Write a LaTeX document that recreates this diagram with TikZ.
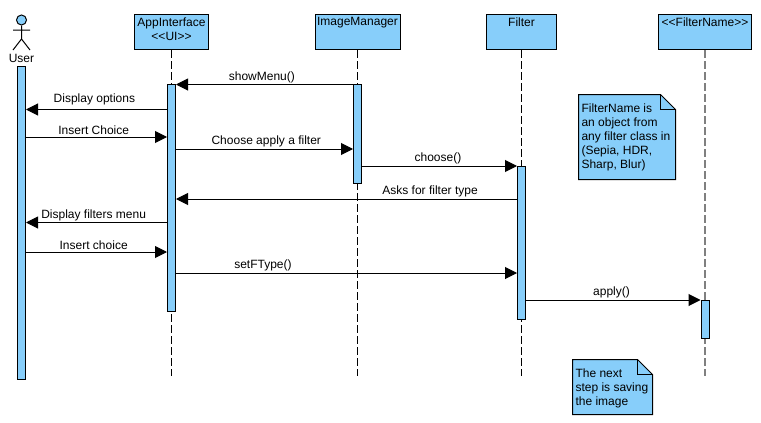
\documentclass[tikz,border=0pt]{standalone}
\usepackage{fontspec}
\setmainfont{Liberation Sans}
\usetikzlibrary{arrows.meta}
\definecolor{umlblue}{RGB}{135,206,250}

\begin{document}
\begin{tikzpicture}[x=1pt,y=-1pt,line width=1pt,font=\fontsize{12}{14}\selectfont,
                    msg/.style={-{Triangle[length=12pt,width=12pt]},shorten >=0pt},
                    lifebox/.style={draw=black,fill=umlblue,minimum height=35pt,inner sep=0pt},
                    boxtext/.style={anchor=north,align=center,inner sep=0pt,yshift=-3pt},
                    bar/.style={draw=black,fill=umlblue,minimum width=8pt,inner sep=0pt},
                    lifeline/.style={dash pattern=on 8pt off 3pt},
                    notebox/.style={draw=black,fill=umlblue,line join=miter},
                    notetext/.style={anchor=north west,align=left,inner sep=0pt},
                    lbl/.style={above=0.5pt,inner sep=1pt}]
  \useasboundingbox (0,0) rectangle (761,423);

  \node[lifebox,minimum width=74pt] (app)    at (171.5,32) {};
  \node[lifebox,minimum width=85pt] (img)    at (357.5,32) {};
  \node[lifebox,minimum width=70pt] (filter) at (521.5,32) {};
  \node[lifebox,minimum width=93pt] (fname)  at (705,32)   {};
  \node[boxtext] (appText)    at (app.north)    {AppInterface\\<{}<UI>{}>};
  \node[boxtext] (imgText)    at (img.north)    {ImageManager};
  \node[boxtext] (filterText) at (filter.north) {Filter};
  \node[boxtext] (fnameText)  at (fname.north)  {<{}<FilterName>{}>};

  % lifeline ends
  \coordinate (appEnd)    at (171.5,376);
  \coordinate (imgEnd)    at (357.5,376);
  \coordinate (filterEnd) at (521.5,376);
  \coordinate (fnameEnd)  at (704.5,376);

  \draw[lifeline] (app) -- (appEnd);
  \draw[lifeline] (img) -- (imgEnd);
  \draw[lifeline] (filter) -- (filterEnd);
  \draw[lifeline,draw=gray,line width=2pt] (fname.south -| fnameEnd) -- (fnameEnd);

  % actor
  \node[circle,draw=black,fill=umlblue,minimum size=10pt,inner sep=0pt] (head) at (21.5,20) {};
  \coordinate (hip)  at (21.5,39);
  \coordinate (armL) at (13,30);
  \coordinate (armR) at (30,30);
  \coordinate (legL) at (13,50);
  \coordinate (legR) at (30,50);
  \draw (head) -- (hip) (armL) -- (armR) (legL) -- (hip) -- (legR);
  \node (user) at (21.5,58) {User};

  % activation bars
  \node[bar,minimum height=313pt] (userBar)   at (21.5,223)    {};
  \node[bar,minimum height=227pt] (appBar)    at (171.5,198)   {};
  \node[bar,minimum height=99pt]  (imgBar)    at (357.5,134)   {};
  \node[bar,minimum height=153pt] (filterBar) at (521.5,243)   {};
  \node[bar,minimum height=38pt]  (fnameBar)  at (705,319.5)   {};

  % message rows
  \coordinate (m1)  at (0,84.5);
  \coordinate (m2)  at (0,109.5);
  \coordinate (m3)  at (0,137);
  \coordinate (m4)  at (0,149);
  \coordinate (m5)  at (0,166);
  \coordinate (m6)  at (0,199);
  \coordinate (m7)  at (0,222.5);
  \coordinate (m8)  at (0,252);
  \coordinate (m9)  at (0,273);
  \coordinate (m10) at (0,300);

  \draw[msg] (imgBar.west |- m1) -- node[lbl,pos=0.515] (showMenuLbl) {showMenu()} (appBar.east |- m1);
  \draw[msg] (appBar.west |- m2) -- node[lbl,pos=0.515,yshift=2.5pt] (optionsLbl) {Display options} (userBar.east |- m2);
  \draw[msg] (userBar.east |- m3) -- node[lbl,pos=0.48] (insertLbl) {Insert Choice} (appBar.west |- m3);
  \draw[msg] (appBar.east |- m4) -- node[lbl,pos=0.51] (chooseLbl) {Choose apply a filter} (imgBar.west |- m4);
  \draw[msg] (imgBar.east |- m5) -- node[lbl,pos=0.49] (choosecLbl) {choose()} (filterBar.west |- m5);
  \draw[msg] (filterBar.west |- m6) -- node[lbl,pos=0.255] (asksLbl) {Asks for filter type} (appBar.east |- m6);
  \draw[msg] (appBar.west |- m7) -- node[lbl,pos=0.52] (menuLbl) {Display filters menu} (userBar.east |- m7);
  \draw[msg] (userBar.east |- m8) -- node[lbl,pos=0.48] (insert2Lbl) {Insert choice} (appBar.west |- m8);
  \draw[msg] (appBar.east |- m9) -- node[lbl,pos=0.255] (setLbl) {setFType()} (filterBar.west |- m9);
  \draw[msg] (filterBar.east |- m10) -- node[lbl,pos=0.49] (applyLbl) {apply()} (fnameBar.west |- m10);

  % notes
  \draw[notebox] (578.5,94.5) -- (660.5,94.5) -- (675.5,109.5) -- (675.5,179.5) -- (578.5,179.5) -- cycle;
  \draw (660.5,94.5) -- (660.5,109.5) -- (675.5,109.5);
  \node[notetext] (note1) at (581,103) {FilterName is\\an object from\\any filter class in\\(Sepia, HDR,\\Sharp, Blur)};
  \draw[notebox] (572.5,359.5) -- (637.5,359.5) -- (652.5,374.5) -- (652.5,414.5) -- (572.5,414.5) -- cycle;
  \draw (637.5,359.5) -- (637.5,374.5) -- (652.5,374.5);
  \node[notetext] (note2) at (575,368) {The next\\step is saving\\the image};
\end{tikzpicture}
\end{document}
